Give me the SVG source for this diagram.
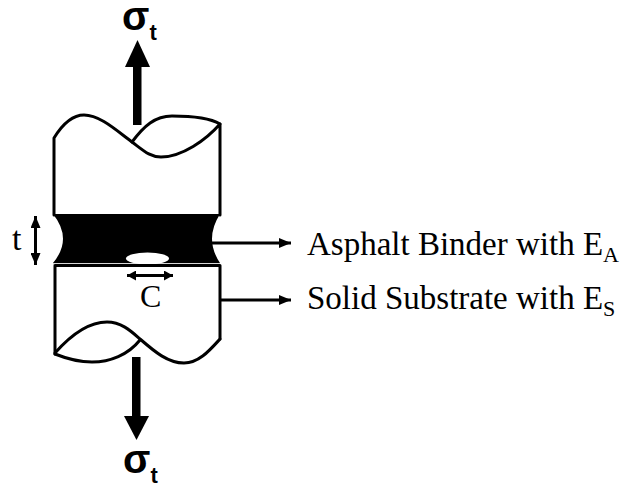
<svg xmlns="http://www.w3.org/2000/svg" width="621" height="486" viewBox="0 0 621 486">
  <style>
    .edge { fill: none; stroke: #000; stroke-width: 3; stroke-linecap: round; stroke-linejoin: round; }
    .lead { fill: none; stroke: #000; stroke-width: 3; }
    .serif { font-family: "Liberation Serif", "Times New Roman", serif; fill: #000; }
    .sigma { font-family: "Liberation Sans", Arial, sans-serif; font-weight: bold; fill: #000; }
  </style>
  <defs>
    <marker id="head" viewBox="0 0 12 10" refX="12" refY="5" markerWidth="12" markerHeight="10" markerUnits="userSpaceOnUse" orient="auto-start-reverse">
      <path d="M0,0 L12,5 L0,10 Z" fill="#000"/>
    </marker>
    <marker id="smallhead" viewBox="0 0 9 10" refX="9" refY="5" markerWidth="9" markerHeight="10" markerUnits="userSpaceOnUse" orient="auto-start-reverse">
      <path d="M0,0 L9,5 L0,10 Z" fill="#000"/>
    </marker>
  </defs>

  <rect width="621" height="486" fill="#fff"/>

  <!-- upper grip, broken off with a wavy cut -->
  <g id="upper-grip">
    <path class="edge" d="M54,215 L54,138 C62,125 72,115 84,115 C100,115 117,131 132,142 C144,151 150,157 161,157 C182,157 206,140 220,124 L220,215"/>
    <path class="edge" d="M132,142 C144,126 155,116 172,116 C192,116 210,118 220,124"/>
  </g>

  <!-- binder film between the two grips -->
  <g id="binder">
    <path d="M53,214 L220,214 Q204,239 220,263 L53,263 Q73,239 53,214 Z" fill="#000"/>
    <line x1="53" y1="264" x2="220" y2="264" stroke="#b0b0b0" stroke-width="1.2"/>
  </g>

  <!-- crack / void inside the binder -->
  <g id="void">
    <ellipse cx="147.5" cy="258.5" rx="21.5" ry="6" fill="#fff"/>
  </g>

  <!-- lower grip (substrate) -->
  <g id="substrate">
    <path class="edge" d="M55,354 L55,265.5 L220,265.5 L220,339"/>
    <path class="edge" d="M55,353 C70,336 88,322 107,322 C122,322 132,332 140,339 C155,352 168,363 184,363 C199,363 210,350 220,339"/>
    <path class="edge" d="M55,354 C70,360 82,362 92,362 C110,362 128,355 140,340"/>
  </g>

  <!-- load arrows and leaders -->
  <g id="connectors">
    <!-- tensile load, top -->
    <rect x="133" y="66" width="8.5" height="59" fill="#000"/>
    <path d="M125,67 L150,67 L137.5,40 Z" fill="#000"/>
    <!-- tensile load, bottom -->
    <rect x="132" y="357" width="8.5" height="60" fill="#000"/>
    <path d="M124,416 L149,416 L136.5,440 Z" fill="#000"/>
    <!-- thickness t -->
    <line class="lead" x1="35.5" y1="216" x2="35.5" y2="265" marker-start="url(#head)" marker-end="url(#head)"/>
    <!-- crack length C -->
    <line class="lead" x1="127" y1="275.5" x2="173" y2="275.5" marker-start="url(#smallhead)" marker-end="url(#smallhead)"/>
    <!-- leaders to the material labels -->
    <line class="lead" x1="212" y1="243" x2="291" y2="243" marker-end="url(#head)"/>
    <line class="lead" x1="220" y1="300" x2="291" y2="300" marker-end="url(#head)"/>
  </g>

  <g id="labels">
    <text class="sigma" x="122" y="30" font-size="40">σ<tspan font-size="22" dy="9.5">t</tspan></text>
    <text class="sigma" x="123" y="473" font-size="40">σ<tspan font-size="22" dy="10">t</tspan></text>
    <text class="serif" x="12" y="250" font-size="34">t</text>
    <text class="serif" x="140" y="307" font-size="32">C</text>
    <text class="serif" x="307" y="255" font-size="33">Asphalt Binder with E<tspan font-size="22" dy="7">A</tspan></text>
    <text class="serif" x="307" y="309" font-size="33">Solid Substrate with E<tspan font-size="22" dy="7">S</tspan></text>
  </g>
</svg>
